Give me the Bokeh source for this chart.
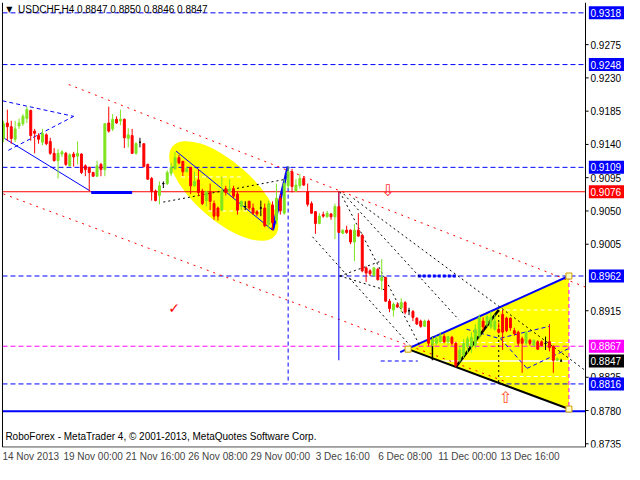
from bokeh.plotting import figure
from bokeh.models import ColumnDataSource, Range1d, FixedTicker, Label
from bokeh.embed import file_html
from bokeh.resources import INLINE
from bokeh.core.properties import value

# ---------------- data (H4 candles, USDCHF) ----------------
opens = [
    .9148, .9169, .9164, .9147, .9165, .9168, .9175, .9186, .9158, .9152,
    .9143, .9153, .9144, .9128, .9118, .9127, .9128, .9111, .9127, .9124,
    .9127, .9111, .9109, .9102, .9097, .9113, .9106, .9169, .9161, .9174,
    .9172, .9174, .9148, .9152, .9128, .9143, .9141, .9113, .9094, .9077,
    .9071, .9087, .9087, .9101, .9107, .9122, .9117, .9103, .9109, .9084,
    .9092, .9077, .9064, .9076, .9060, .9054, .9051, .9080, .9076, .9080,
    .9073, .9056, .9056, .9063, .9054, .9049, .9054, .9054, .9032, .9058,
    .9037, .9067, .9047, .9084, .9103, .9077, .9084, .9094, .9076, .9060,
    .9049, .9033, .9045, .9042, .9046, .9042, .9056, .9020, .9024, .9024,
    .9008, .9024, .9017, .8973, .8969, .8963, .8971, .8956, .8960, .8928,
    .8916, .8923, .8919, .8926, .8915, .8914, .8905, .8901, .8894, .8901,
    .8871, .8871, .8873, .8880, .8873, .8879, .8871, .8848, .8855, .8867,
    .8867, .8868, .8881, .8901, .8897, .8893, .8890, .8890, .8910, .8905,
    .8905, .8888, .8886, .8877, .8871, .8875, .8868, .8873, .8873, .8871,
    .8873, .8867, .8848, .8847]
highs = [
    .9172, .9187, .9172, .9172, .9175, .9181, .9191, .9187, .9161, .9155,
    .9161, .9155, .9149, .9135, .9134, .9132, .9130, .9128, .9130, .9144,
    .9128, .9113, .9110, .9103, .9118, .9115, .9169, .9191, .9181, .9178,
    .9187, .9175, .9162, .9161, .9143, .9149, .9141, .9114, .9096, .9079,
    .9090, .9090, .9105, .9115, .9130, .9126, .9118, .9110, .9109, .9103,
    .9106, .9080, .9077, .9087, .9064, .9056, .9096, .9084, .9093, .9084,
    .9076, .9064, .9063, .9064, .9060, .9051, .9064, .9060, .9064, .9063,
    .9087, .9073, .9093, .9110, .9107, .9093, .9100, .9097, .9087, .9063,
    .9050, .9047, .9049, .9050, .9047, .9060, .9077, .9025, .9030, .9025,
    .9032, .9047, .9019, .8975, .8971, .8974, .8973, .8985, .8961, .8931,
    .8926, .8926, .8932, .8928, .8919, .8916, .8906, .8903, .8903, .8903,
    .8880, .8881, .8886, .8884, .8881, .8881, .8873, .8867, .8877, .8880,
    .8886, .8897, .8910, .8906, .8910, .8914, .8910, .8899, .8916, .8907,
    .8906, .8892, .8888, .8880, .8888, .8877, .8876, .8875, .8875, .8880,
    .8897, .8868, .8852, .8850]
lows = [
    .9143, .9145, .9141, .9143, .9161, .9165, .9169, .9145, .9128, .9141,
    .9139, .9139, .9126, .9117, .9094, .9123, .9111, .9110, .9110, .9113,
    .9100, .9097, .9077, .9096, .9096, .9097, .9097, .9156, .9158, .9168,
    .9166, .9135, .9136, .9127, .9126, .9136, .9109, .9092, .9064, .9063,
    .9059, .9081, .9085, .9097, .9106, .9113, .9097, .9102, .9073, .9083,
    .9070, .9058, .9056, .9051, .9038, .9037, .9050, .9071, .9073, .9067,
    .9045, .9051, .9051, .9051, .9045, .9043, .9043, .9028, .9026, .9024,
    .9032, .9045, .9045, .9080, .9075, .9076, .9080, .9084, .9056, .9046,
    .9019, .9032, .9041, .9041, .9038, .9012, .9020, .9019, .9019, .9005,
    .8982, .9015, .8967, .8954, .8962, .8961, .8956, .8943, .8927, .8913,
    .8907, .8919, .8913, .8910, .8909, .8901, .8896, .8892, .8893, .8867,
    .8867, .8868, .8871, .8871, .8868, .8868, .8838, .8845, .8851, .8858,
    .8858, .8864, .8877, .8888, .8893, .8890, .8888, .8884, .8862, .8886,
    .8888, .8881, .8867, .8831, .8868, .8868, .8867, .8862, .8867, .8862,
    .8860, .8831, .8847, .8846]
closes = [
    .9168, .9164, .9148, .9161, .9169, .9178, .9187, .9152, .9155, .9147,
    .9155, .9141, .9128, .9118, .9128, .9130, .9113, .9126, .9123, .9128,
    .9102, .9106, .9102, .9097, .9111, .9106, .9168, .9158, .9174, .9169,
    .9174, .9149, .9153, .9128, .9141, .9143, .9110, .9093, .9076, .9064,
    .9084, .9087, .9102, .9109, .9122, .9115, .9103, .9107, .9084, .9090,
    .9075, .9060, .9076, .9063, .9043, .9043, .9077, .9075, .9080, .9070,
    .9051, .9063, .9056, .9054, .9047, .9046, .9054, .9030, .9060, .9034,
    .9067, .9050, .9087, .9103, .9083, .9085, .9094, .9085, .9059, .9047,
    .9033, .9043, .9043, .9047, .9042, .9056, .9021, .9024, .9021, .9008,
    .9024, .9016, .8969, .8966, .8965, .8973, .8957, .8960, .8928, .8918,
    .8924, .8920, .8926, .8913, .8915, .8906, .8897, .8894, .8901, .8871,
    .8875, .8877, .8881, .8873, .8880, .8871, .8841, .8862, .8871, .8877,
    .8879, .8890, .8906, .8893, .8907, .8906, .8901, .8886, .8886, .8888,
    .8892, .8884, .8871, .8871, .8886, .8871, .8875, .8863, .8868, .8871,
    .8865, .8848, .8850, .8847]

date_labels = ["14 Nov 2013", "19 Nov 00:00", "21 Nov 16:00", "26 Nov 08:00",
               "29 Nov 00:00", "3 Dec 16:00", "6 Dec 08:00", "11 Dec 00:00", "13 Dec 16:00"]
date_label_bars = [0, 16, 32, 48, 64, 80, 96, 112, 128]

price_ticks = [0.9275, 0.9230, 0.9185, 0.9140, 0.9095, 0.9050, 0.9005,
               0.8915, 0.8825, 0.8780, 0.8735]

level_prices = [0.9318, 0.9248, 0.9109, 0.9076, 0.8962, 0.8867, 0.8847, 0.8816]
level_colors = ["#0000ff", "#0000ff", "#0000ff", "#ff0000", "#0000ff", "#ff00ff", "#000000", "#0000ff"]

title_text = "USDCHF,H4  0.8847 0.8850 0.8846 0.8847"
copyright_text = "RoboForex - MetaTrader 4, \u00a9 2001-2013, MetaQuotes Software Corp."

FONT = "Liberation Sans"
BLUE, RED, MAG, BLK = "#0000ff", "#ff0000", "#ff00ff", "#000000"
GREEN = "#7fe41f"

Y0, Y1 = 0.8730, 0.9332      # price window
CH_L, CH_R = -0.25, 149.25   # chart area in bars; right of CH_R is the price scale

n = len(closes)
idx = list(range(n))
cols = [GREEN if c > o else (RED if c < o else BLK) for o, c in zip(opens, closes)]
src = ColumnDataSource(dict(x=idx, o=opens, h=highs, l=lows, c=closes,
                            top=[max(a, b) for a, b in zip(opens, closes)],
                            bot=[min(a, b) for a, b in zip(opens, closes)],
                            col=cols))

p = figure(width=624, height=464, output_backend="svg", toolbar_location=None,
           x_range=Range1d(-0.5, 159.25), y_range=Range1d(Y0, Y1),
           y_axis_location=None, min_border_left=1, min_border_top=2,
           min_border_right=0, min_border_bottom=0)
p.grid.visible = False
p.outline_line_color = None
p.background_fill_color = "white"

# x axis (labels start at their bar, MT4 style)
xa = p.xaxis[0]
tick_pos = [b + 7 for b in date_label_bars]
xa.ticker = FixedTicker(ticks=tick_pos, minor_ticks=[])
xa.major_label_overrides = {t: s for t, s in zip(tick_pos, date_labels)}
xa.major_label_text_font_size = "10px"
xa.major_label_text_font = FONT
xa.major_tick_out = 0
xa.major_tick_in = 0
xa.minor_tick_out = 0
xa.minor_tick_in = 0
xa.axis_line_color = None
xa.major_label_standoff = 3


def segs(lst, color, width=1, dash="solid"):
    p.segment(x0=[s[0] for s in lst], y0=[s[1] for s in lst],
              x1=[s[2] for s in lst], y1=[s[3] for s in lst],
              line_color=color, line_width=width, line_dash=dash)


# ---------------- background objects ----------------
p.ellipse(x=[56.5], y=[0.9077], width=[136], height=[58], width_units="screen",
          height_units="screen", angle=-0.72, fill_color="#ffff00", line_color=None)
p.patch(x=[103.75, 145, 145], y=[0.8863, 0.8962, 0.8782], fill_color="#ffff00", line_color=None)

# full-width levels
segs([(CH_L, lv, CH_R, lv) for lv in (0.9318, 0.9248, 0.9109, 0.8962, 0.8816)], BLUE, 1, "5 3")
segs([(CH_L, 0.8867, CH_R, 0.8867)], MAG, 1, "5 3")
segs([(CH_L, 0.9076, CH_R, 0.9076)], RED, 1)
segs([(CH_L, 0.8779, CH_R, 0.8779)], BLUE, 2)

# white fibo-like lines
segs([(127, 0.8916, 145, 0.8916), (127, 0.8826, 145, 0.8826), (110, 0.8872, 145, 0.8872),
      (45.5, 0.9096, 61, 0.9096), (52.5, 0.9050, 66, 0.9050)], "white", 1, "4 3")
segs([(110, 0.8847, 145, 0.8847)], "white", 1.5)

# red dotted channel
segs([(16.75, 0.9221, CH_R, 0.8947), (0, 0.9073, 129.25, 0.8818)], RED, 1, "2 5")

# blue lines
segs([(0, 0.9149, 22.25, 0.9077), (44.25, 0.9131, 69, 0.9024), (86, 0.9076, 86, 0.8848)], BLUE, 1)
segs([(22.5, 0.9075, 33, 0.9075), (69, 0.9024, 73, 0.9110)], BLUE, 3)
segs([(101.75, 0.8859, 145, 0.8962)], BLUE, 2)
segs([(CH_L, 0.9199, 18, 0.9178), (1.25, 0.9132, 18, 0.9178), (73, 0.9110, 73, 0.8816),
      (96.75, 0.8847, 106.25, 0.8847), (118.75, 0.8890, 127.5, 0.8877),
      (127.5, 0.8878, 140, 0.8894), (127.5, 0.8877, 134.25, 0.8837),
      (134.25, 0.8837, 145, 0.8864)], BLUE, 1, "4 3")
segs([(106.25, 0.8962, 116, 0.8962)], BLUE, 3, "3 2")

# black lines
segs([(41, 0.9062, 72.5, 0.9093), (86.25, 0.9076, 106.75, 0.8868), (87.25, 0.9073, 116.75, 0.8903),
      (89.75, 0.9067, CH_R, 0.8834), (79.25, 0.9015, 104.25, 0.8868),
      (86.25, 0.8962, 96.75, 0.8982), (86.25, 0.8962, 98, 0.8943),
      (127, 0.8916, 127, 0.8816)], BLK, 1, "2 3")
segs([(103.75, 0.8863, 145, 0.8782)], BLK, 2)
segs([(110, 0.8880, 110, 0.8848)], BLK, 1.5)
segs([(116, 0.8839, 127, 0.8916)], BLK, 2.5)
segs([(145, 0.8962, 145, 0.8782)], MAG, 1, "4 3")

p.scatter(x=[103.75, 145, 145], y=[0.8863, 0.8962, 0.8782], marker="square", size=6,
          fill_color="#ffffc0", line_color="#d0a000")

# ---------------- candles ----------------
p.segment(x0="x", y0="h", x1="x", y1="l", line_color="col", line_width=1, source=src)
p.vbar(x="x", width=0.5, top="top", bottom="bot", fill_color="col", line_color="col",
       line_width=1, source=src)

# ---------------- chart border ----------------
segs([(CH_L, Y0 + 0.00005, CH_L, Y1), (CH_R, Y0 + 0.00005, CH_R, Y1),
      (CH_L, Y0 + 0.00005, CH_R, Y0 + 0.00005)], BLK, 1)

# ---------------- price scale (right) ----------------
p.segment(x0=[CH_R] * len(price_ticks), y0=price_ticks, x1=[CH_R + 0.8] * len(price_ticks),
          y1=price_ticks, line_color=BLK, line_width=1)
p.text(x=[CH_R] * len(price_ticks), y=price_ticks, text=["%.4f" % v for v in price_ticks],
       x_offset=5, text_font_size="10px", text_font=value(FONT), text_color=BLK,
       text_align="left", text_baseline="middle")
p.rect(x=[CH_R + 5.6] * len(level_prices), y=level_prices, width=37, height=13,
       width_units="screen", height_units="screen", fill_color=level_colors, line_color=None)
p.text(x=[CH_R] * len(level_prices), y=level_prices, text=["%.4f" % v for v in level_prices],
       x_offset=5, text_font_size="10px", text_font=value(FONT), text_color="white",
       text_align="left", text_baseline="middle")

# ---------------- markers / texts ----------------
p.text(x=[98.5], y=[0.9077], text=["\u21e9"], text_color="#ff3030", text_font_size="16px",
       text_align="center", text_baseline="middle", text_font=value("DejaVu Sans"))
p.text(x=[128.75], y=[0.8797], text=["\u21e7"], text_color="#ff5020", text_font_size="16px",
       text_align="center", text_baseline="middle", text_font=value("DejaVu Sans"))
p.text(x=[43.75], y=[0.8919], text=["\u2713"], text_color="#ff0000", text_font_size="14px",
       text_align="center", text_baseline="middle", text_font=value("DejaVu Sans"))

p.add_layout(Label(x=1.5, y=0.9322, text="\u25bc", text_font_size="8px", text_font="DejaVu Sans",
                   text_color="black", text_align="center", text_baseline="middle"))
p.add_layout(Label(x=3.75, y=0.9322, text=title_text, text_font_size="10px", text_font=FONT,
                   text_color="black", text_align="left", text_baseline="middle"))
p.add_layout(Label(x=0.5, y=0.8745, text=copyright_text, text_font_size="10px", text_font=FONT,
                   text_color="black", text_align="left", text_baseline="middle"))

open("out.html", "w").write(file_html(p, INLINE))
